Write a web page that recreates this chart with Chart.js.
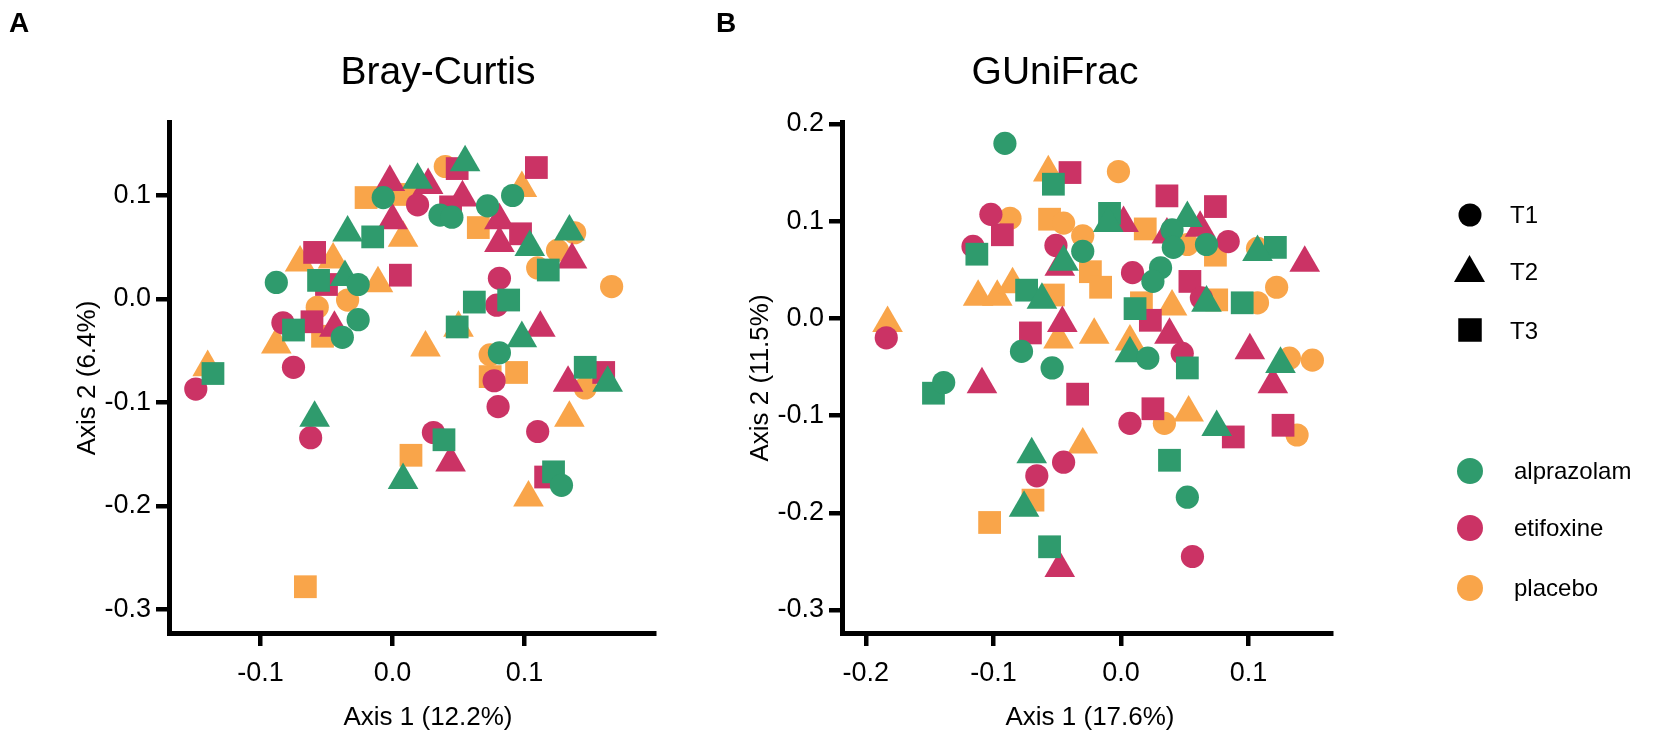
<!DOCTYPE html>
<html>
<head>
<meta charset="utf-8">
<script src="https://cdn.jsdelivr.net/npm/chart.js@4.4.1/dist/chart.umd.min.js"></script>
<style>
  body { margin: 0; background: #fff; width: 1654px; height: 743px; overflow: hidden; position: relative; }
  canvas { position: absolute; left: 0; top: 0; }
  .lg { position: absolute; color: #000; height: 32px; line-height: 32px; white-space: nowrap; }
  .mk { position: absolute; }
</style>
</head>
<body>
<canvas id="chartA" width="1654" height="743"></canvas>
<canvas id="chartB" width="1654" height="743"></canvas>

<svg class="mk" style="left:1458px;top:203px" width="24" height="24"><circle cx="12" cy="12" r="11.5" fill="#000"/></svg>
<div class="lg" style="left:1510px;top:199px">T1</div>
<svg class="mk" style="left:1453px;top:254px" width="33" height="30"><polygon points="16.5,1 32,28 1,28" fill="#000"/></svg>
<div class="lg" style="left:1510px;top:256px">T2</div>
<svg class="mk" style="left:1458px;top:318px" width="24" height="24"><rect x="0.25" y="0.25" width="23.5" height="23.5" fill="#000"/></svg>
<div class="lg" style="left:1510px;top:315px">T3</div>

<svg class="mk" style="left:1457px;top:458px" width="26" height="26"><circle cx="13" cy="13" r="13" fill="#2f9b6d"/></svg>
<div class="lg" style="left:1514px;top:455px">alprazolam</div>
<svg class="mk" style="left:1457px;top:515px" width="26" height="26"><circle cx="13" cy="13" r="13" fill="#cb3365"/></svg>
<div class="lg" style="left:1514px;top:512px">etifoxine</div>
<svg class="mk" style="left:1457px;top:575px" width="26" height="26"><circle cx="13" cy="13" r="13" fill="#f9a54a"/></svg>
<div class="lg" style="left:1514px;top:572px">placebo</div>

<script>
// group colours
const groupNames = ["alprazolam", "etifoxine", "placebo"];
const groupColors = ["#2f9b6d", "#cb3365", "#f9a54a"];
const timeNames = ["T1", "T2", "T3"];

// ---- Bray-Curtis (panel A), [axis1, axis2] ----
const bcAlpT1 = [[-0.007,0.098],[-0.088,0.016],[-0.026,0.014],[-0.026,-0.020],[-0.038,-0.037],[0.091,0.100],[0.036,0.081],[0.045,0.079],[0.072,0.090],[0.081,-0.052],[0.128,-0.180]];
const bcAlpT2 = [[-0.034,0.064],[-0.036,0.021],[-0.059,-0.115],[0.055,0.132],[0.019,0.115],[0.104,0.050],[0.134,0.065],[0.098,-0.038],[0.163,-0.081],[0.008,-0.175]];
const bcAlpT3 = [[-0.015,0.060],[-0.056,0.018],[-0.075,-0.030],[-0.136,-0.072],[0.118,0.028],[0.062,-0.003],[0.088,-0.001],[0.049,-0.027],[0.146,-0.066],[0.039,-0.136],[0.122,-0.167]];
const bcEtiT1 = [[-0.083,-0.023],[-0.075,-0.066],[-0.149,-0.087],[-0.062,-0.134],[0.019,0.091],[0.081,0.020],[0.079,-0.006],[0.077,-0.079],[0.080,-0.104],[0.110,-0.128],[0.031,-0.129]];
const bcEtiT2 = [[-0.002,0.113],[0.000,0.076],[-0.044,-0.028],[0.027,0.110],[0.053,0.098],[0.081,0.076],[0.081,0.054],[0.136,0.038],[0.112,-0.028],[0.133,-0.081],[0.044,-0.158]];
const bcEtiT3 = [[-0.059,0.045],[0.006,0.023],[-0.050,0.014],[-0.061,-0.022],[0.049,0.126],[0.109,0.127],[0.044,0.089],[0.097,0.063],[0.160,-0.071],[0.116,-0.172]];
const bcPlaT1 = [[-0.057,-0.008],[-0.034,-0.001],[0.040,0.128],[0.138,0.064],[0.125,0.047],[0.110,0.030],[0.166,0.012],[0.074,-0.054],[0.146,-0.086]];
const bcPlaT2 = [[-0.070,0.035],[-0.045,0.038],[0.008,0.059],[-0.011,0.015],[-0.088,-0.044],[-0.140,-0.066],[0.098,0.107],[0.050,-0.028],[0.025,-0.047],[0.134,-0.115],[0.103,-0.192]];
const bcPlaT3 = [[0.009,0.101],[-0.020,0.098],[-0.053,-0.036],[-0.066,-0.278],[0.065,0.069],[0.094,-0.071],[0.074,-0.075],[0.014,-0.151]];

// ---- GUniFrac (panel B), [axis1, axis2] ----
const guAlpT1 = [[-0.091,0.180],[-0.139,-0.066],[-0.078,-0.034],[-0.054,-0.051],[0.021,-0.041],[0.052,-0.184],[-0.030,0.069],[0.031,0.052],[0.025,0.038],[0.040,0.091],[0.041,0.073],[0.067,0.076]];
const guAlpT2 = [[-0.070,-0.140],[-0.076,-0.195],[0.007,-0.036],[0.075,-0.112],[0.125,-0.047],[-0.010,0.098],[-0.045,0.058],[0.052,0.103],[0.107,0.068],[0.067,0.016],[-0.062,0.019]];
const guAlpT3 = [[-0.113,0.066],[-0.074,0.029],[-0.147,-0.077],[-0.056,-0.235],[0.052,-0.051],[0.038,-0.146],[-0.053,0.138],[-0.009,0.108],[0.121,0.073],[0.095,0.016],[0.011,0.010]];
const guEtiT1 = [[-0.102,0.107],[-0.116,0.074],[-0.184,-0.020],[-0.066,-0.162],[-0.045,-0.148],[0.048,-0.036],[0.007,-0.108],[0.056,-0.245],[-0.051,0.075],[0.009,0.047],[0.084,0.079],[0.063,0.021]];
const guEtiT2 = [[-0.109,-0.068],[-0.048,-0.257],[0.038,-0.017],[0.101,-0.033],[0.119,-0.068],[0.002,0.098],[-0.048,0.053],[0.036,0.086],[0.062,0.093],[0.144,0.057],[-0.046,-0.005]];
const guEtiT3 = [[-0.093,0.086],[-0.071,-0.015],[-0.034,-0.078],[0.025,-0.093],[0.088,-0.122],[0.127,-0.110],[-0.040,0.150],[0.036,0.126],[0.074,0.115],[0.054,0.038],[0.023,-0.002]];
const guPlaT1 = [[-0.087,0.103],[0.034,-0.108],[-0.002,0.151],[-0.045,0.098],[-0.030,0.085],[0.052,0.076],[0.107,0.072],[0.122,0.032],[0.107,0.016],[0.150,-0.043],[0.132,-0.041],[0.138,-0.120]];
const guPlaT2 = [[-0.112,0.022],[-0.097,0.022],[-0.085,0.035],[-0.183,-0.005],[-0.030,-0.130],[-0.049,-0.022],[-0.021,-0.017],[0.007,-0.024],[0.053,-0.097],[-0.057,0.150],[0.040,0.012]];
const guPlaT3 = [[-0.103,-0.210],[-0.069,-0.187],[0.019,0.092],[-0.056,0.102],[-0.024,0.048],[-0.016,0.032],[0.074,0.065],[0.075,0.019],[-0.053,0.024],[0.016,0.016]];

// tick values
const bcXTicks = [-0.1, 0.0, 0.1];
const bcYTicks = [-0.3, -0.2, -0.1, 0.0, 0.1];
const guXTicks = [-0.2, -0.1, 0.0, 0.1];
const guYTicks = [-0.3, -0.2, -0.1, 0.0, 0.1, 0.2];

// the reference uses a narrow Helvetica; use Liberation Sans Narrow if it is there
function hasFont(name) {
  const c = document.createElement("canvas").getContext("2d");
  c.font = "40px monospace";
  const w = c.measureText("Axis 1 (12.2%)").width;
  c.font = '40px "' + name + '", monospace';
  return c.measureText("Axis 1 (12.2%)").width !== w;
}
const narrow = hasFont("Liberation Sans Narrow");
const FONT = narrow ? '"Liberation Sans Narrow", "Liberation Sans", Arial, sans-serif' : '"Liberation Sans", Arial, sans-serif';
const k = narrow ? 1 : 0.84;
const px = n => Math.round(n * k) + "px ";

document.querySelectorAll(".lg").forEach(d => {
  d.style.fontFamily = FONT;
  d.style.fontSize = px(28);
});

const shapes = { T1: ["circle", 11.6], T2: ["triangle", 17.7], T3: ["rect", 16.1] };

function makeDatasets(series) {
  // series: [[group index, time, points], ...]
  return series.map(([g, t, pts]) => ({
    label: groupNames[g] + " " + t,
    data: pts.map(p => ({ x: p[0], y: p[1] })),
    pointStyle: shapes[t][0],
    pointRadius: shapes[t][1],
    pointHoverRadius: shapes[t][1],
    backgroundColor: groupColors[g],
    borderWidth: 0
  }));
}

function textPlugin(items) {
  return {
    id: "texts",
    afterDraw(chart) {
      const ctx = chart.ctx;
      items.forEach(t => {
        ctx.save();
        ctx.font = t.font;
        ctx.fillStyle = "#000";
        ctx.textAlign = "center";
        ctx.textBaseline = "middle";
        ctx.translate(t.x, t.y);
        if (t.rot) ctx.rotate(t.rot);
        ctx.fillText(t.text, 0, 0);
        ctx.restore();
      });
    }
  };
}

function axisOpts(ticks, min, max, fit, pad) {
  return {
    type: "linear",
    min: min,
    max: max,
    afterBuildTicks: s => { s.ticks = ticks.map(v => ({ value: v })); },
    afterFit: fit,
    ticks: {
      color: "#000",
      font: { family: FONT, size: Math.round(32 * k) },
      padding: pad,
      autoSkip: false,
      maxRotation: 0,
      callback: v => v.toFixed(1)
    },
    grid: { display: true, drawOnChartArea: false, drawTicks: true, tickLength: 13, lineWidth: 4.5, color: "#000" },
    border: { display: true, width: 5, color: "#000" }
  };
}

function makeChart(id, datasets, x, y, rightPad, texts) {
  return new Chart(document.getElementById(id), {
    type: "scatter",
    data: { datasets: datasets },
    options: {
      responsive: false,
      animation: false,
      events: [],
      devicePixelRatio: 1,
      layout: { padding: { left: 0, right: rightPad, top: 122, bottom: 0 } },
      plugins: { legend: { display: false }, tooltip: { enabled: false } },
      scales: { x: x, y: y }
    },
    plugins: [textPlugin(texts)]
  });
}

makeChart("chartA",
  makeDatasets([
    [0, "T1", bcAlpT1], [0, "T2", bcAlpT2], [0, "T3", bcAlpT3],
    [1, "T1", bcEtiT1], [1, "T2", bcEtiT2], [1, "T3", bcEtiT3],
    [2, "T1", bcPlaT1], [2, "T2", bcPlaT2], [2, "T3", bcPlaT3]
  ]),
  axisOpts(bcXTicks, -0.1693, 0.1981, s => { s.height = 110; }, 11),
  axisOpts(bcYTicks, -0.3227, 0.1710, s => { s.width = 169; }, 5),
  1000,
  [
    { text: "A", x: 19, y: 24, font: "bold " + px(33) + FONT },
    { text: "Bray-Curtis", x: 438, y: 73, font: px(47) + FONT },
    { text: "Axis 1 (12.2%)", x: 428, y: 718, font: px(31) + FONT },
    { text: "Axis 2 (6.4%)", x: 88, y: 378, font: px(31) + FONT, rot: -Math.PI / 2 }
  ]
);

makeChart("chartB",
  makeDatasets([
    [0, "T1", guAlpT1], [0, "T2", guAlpT2], [0, "T3", guAlpT3],
    [1, "T1", guEtiT1], [1, "T2", guEtiT2], [1, "T3", guEtiT3],
    [2, "T1", guPlaT1], [2, "T2", guPlaT2], [2, "T3", guPlaT3]
  ]),
  axisOpts(guXTicks, -0.2187, 0.1646, s => { s.height = 110; }, 11),
  axisOpts(guYTicks, -0.3237, 0.2020, s => { s.width = 842; }, 5),
  323,
  [
    { text: "B", x: 726, y: 24, font: "bold " + px(33) + FONT },
    { text: "GUniFrac", x: 1055, y: 73, font: px(47) + FONT },
    { text: "Axis 1 (17.6%)", x: 1090, y: 718, font: px(31) + FONT },
    { text: "Axis 2 (11.5%)", x: 761, y: 378, font: px(31) + FONT, rot: -Math.PI / 2 }
  ]
);
</script>
</body>
</html>
